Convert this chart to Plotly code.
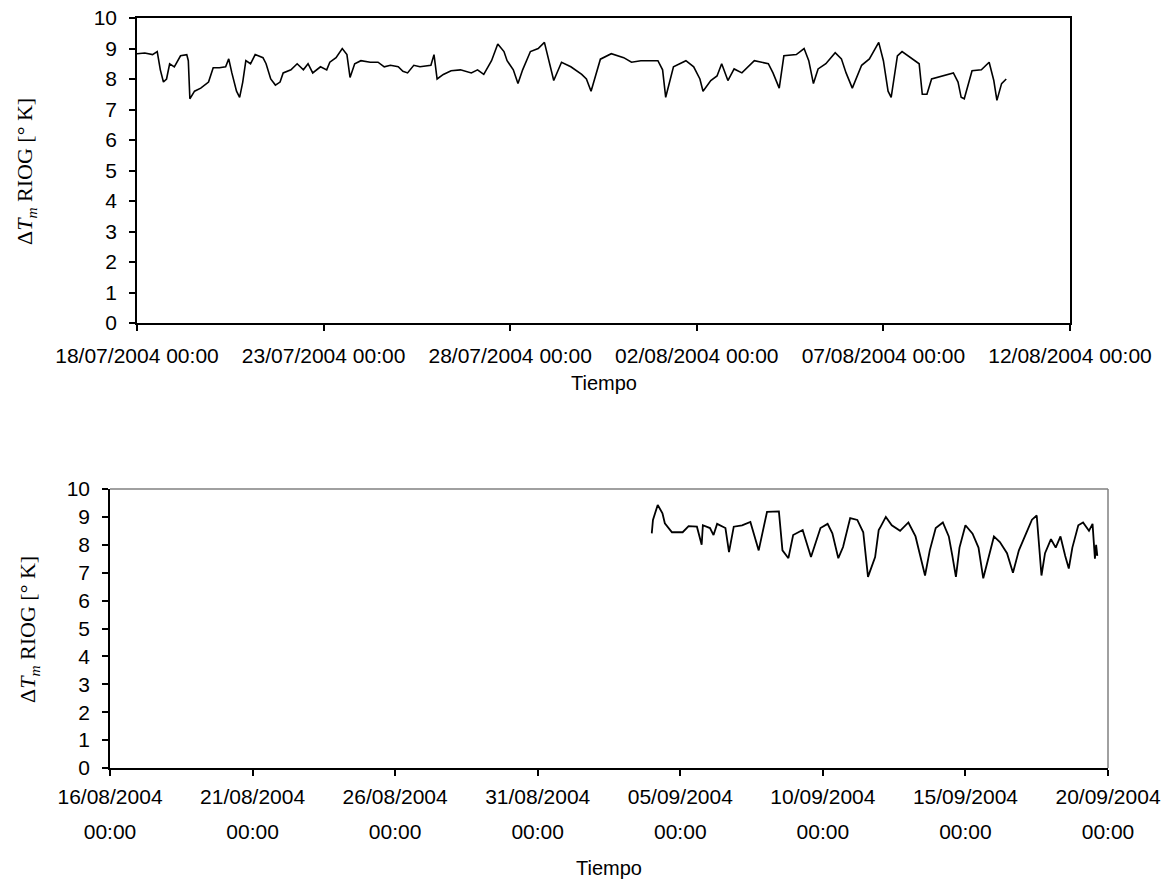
import pandas as pd
import plotly.graph_objects as go

# ---------------- data ----------------
top_start = "2004-07-18 00:00"
top_hours = [0, 5, 10, 13, 15, 17, 19, 21, 24, 28, 32, 33, 34, 37, 41, 46, 49, 53, 57, 59,
             61, 64, 66, 68, 70, 73, 76, 81, 83, 86, 89, 92, 94, 99, 103, 107, 110, 113, 118, 122,
             124, 128, 132, 135, 137, 140, 144, 150, 155, 159, 163, 168, 171, 174, 178, 182, 189, 191, 193, 197,
             202, 208, 215, 219, 223, 228, 232, 236, 238, 242, 245, 248, 253, 258, 262, 265, 268, 273, 279, 286,
             289, 292, 295, 298, 305, 313, 318, 324, 335, 338, 340, 343, 345, 353, 358, 362, 364, 369, 373, 376,
             380, 384, 389, 397, 406, 409, 413, 416, 424, 429, 432, 435, 438, 443, 449, 453, 456, 460, 466, 471,
             477, 480, 483, 485, 489, 492, 500, 503, 505, 508, 511, 518, 525, 528, 530, 532, 537, 543, 548, 551,
             553, 556, 559]
top_values = [8.83, 8.85, 8.8, 8.9, 8.3, 7.9, 8.0, 8.5, 8.4, 8.76, 8.8, 8.6, 7.35, 7.6, 7.7, 7.9, 8.37, 8.37, 8.4, 8.66,
              8.2, 7.6, 7.4, 7.9, 8.6, 8.5, 8.8, 8.7, 8.5, 8.0, 7.8, 7.9, 8.2, 8.3, 8.5, 8.3, 8.5, 8.2, 8.4, 8.3,
              8.55, 8.7, 9.0, 8.8, 8.05, 8.5, 8.6, 8.55, 8.55, 8.4, 8.45, 8.4, 8.25, 8.2, 8.45, 8.4, 8.45, 8.8, 8.0, 8.15,
              8.27, 8.3, 8.2, 8.3, 8.15, 8.6, 9.15, 8.9, 8.6, 8.3, 7.85, 8.3, 8.9, 9.0, 9.2, 8.6, 7.95, 8.55, 8.4, 8.15,
              8.0, 7.6, 8.1, 8.65, 8.83, 8.7, 8.55, 8.6, 8.6, 8.3, 7.4, 8.0, 8.4, 8.6, 8.4, 8.0, 7.6, 7.95, 8.1, 8.5,
              7.95, 8.33, 8.2, 8.6, 8.5, 8.2, 7.7, 8.76, 8.8, 9.0, 8.6, 7.85, 8.33, 8.5, 8.86, 8.66, 8.2, 7.7, 8.45, 8.66,
              9.2, 8.6, 7.6, 7.4, 8.76, 8.9, 8.6, 8.5, 7.5, 7.5, 8.0, 8.1, 8.2, 7.9, 7.4, 7.35, 8.27, 8.3, 8.55, 7.95,
              7.3, 7.85, 8.0]

bot_start = "2004-08-16 00:00"
bot_hours = [456, 457, 461, 465, 467, 473, 482, 487, 494, 498, 499, 505, 508, 511, 518, 521, 525, 532, 539, 546,
             553, 563, 566, 571, 575, 583, 590, 598, 604, 608, 613, 617, 623, 629, 634, 638, 644, 647, 648, 653,
             658, 665, 672, 678, 682, 686, 690, 695, 701, 706, 709, 712, 715, 720, 726, 731, 735, 739, 744, 749,
             755, 760, 765, 771, 776, 780, 782, 784, 787, 792, 796, 800, 804, 807, 810, 815, 819, 824, 827, 829,
             830, 831]
bot_values = [8.41, 8.89, 9.43, 9.13, 8.77, 8.45, 8.45, 8.67, 8.65, 8.0, 8.7, 8.6, 8.35, 8.75, 8.6, 7.74, 8.65, 8.7, 8.82, 7.8,
              9.18, 9.2, 7.8, 7.52, 8.35, 8.53, 7.56, 8.6, 8.75, 8.41, 7.52, 7.92, 8.96, 8.89, 8.45, 6.85, 7.56, 8.53, 8.6, 9.0,
              8.7, 8.5, 8.8, 8.3, 7.6, 6.9, 7.8, 8.6, 8.8, 8.3, 7.6, 6.85, 7.9, 8.7, 8.4, 7.9, 6.8, 7.5, 8.3, 8.1,
              7.7, 7.0, 7.8, 8.4, 8.9, 9.05, 7.8, 6.9, 7.7, 8.2, 7.9, 8.3, 7.6, 7.15, 7.9, 8.7, 8.8, 8.5, 8.75, 7.5,
              8.0, 7.6]

top_tick_dates = ["2004-07-18", "2004-07-23", "2004-07-28", "2004-08-02", "2004-08-07", "2004-08-12"]
top_tick_text = ["18/07/2004 00:00", "23/07/2004 00:00", "28/07/2004 00:00",
                 "02/08/2004 00:00", "07/08/2004 00:00", "12/08/2004 00:00"]
bot_tick_dates = ["2004-08-16", "2004-08-21", "2004-08-26", "2004-08-31",
                  "2004-09-05", "2004-09-10", "2004-09-15", "2004-09-20"]
bot_tick_date_text = ["16/08/2004", "21/08/2004", "26/08/2004", "31/08/2004",
                      "05/09/2004", "10/09/2004", "15/09/2004", "20/09/2004"]
bot_tick_time_text = ["00:00"] * len(bot_tick_dates)
y_ticks = list(range(0, 11))

y_title = "Δ<i>T<sub>m</sub></i> RIOG [° K]"
x_title = "Tiempo"

# ---------------- figure ----------------
W, H = 1166, 881
top_t = pd.Timestamp(top_start) + pd.to_timedelta(top_hours, unit="h")
bot_t = pd.Timestamp(bot_start) + pd.to_timedelta(bot_hours, unit="h")

fig = go.Figure()
fig.add_trace(go.Scatter(x=top_t, y=top_values, mode="lines",
                         line=dict(color="black", width=1.6), xaxis="x", yaxis="y", showlegend=False))
fig.add_trace(go.Scatter(x=bot_t, y=bot_values, mode="lines",
                         line=dict(color="black", width=1.8), xaxis="x2", yaxis="y2", showlegend=False))
# invisible helper trace so the second-line (time) label axis is drawn
fig.add_trace(go.Scatter(x=bot_t[:1], y=bot_values[:1], mode="markers", marker=dict(opacity=0),
                         hoverinfo="skip", xaxis="x3", yaxis="y2", showlegend=False))

tick_font = dict(family="Liberation Sans, Arial, sans-serif", size=21, color="black")
common = dict(ticks="outside", ticklen=6, tickcolor="black", tickwidth=1.5,
              showline=True, linecolor="black", linewidth=1.5,
              showgrid=False, zeroline=False, automargin=False, tickfont=tick_font)

bot_dom = [110 / W, 1108 / W]
fig.update_layout(
    width=W, height=H,
    margin=dict(l=0, r=0, t=0, b=0, autoexpand=False),
    paper_bgcolor="white", plot_bgcolor="white",
    xaxis=dict(domain=[137 / W, 1070 / W], anchor="y", type="date",
               range=[top_tick_dates[0], top_tick_dates[-1]],
               tickvals=top_tick_dates, ticktext=top_tick_text, mirror=True,
               ticklabelstandoff=7, **common),
    yaxis=dict(domain=[1 - 323 / H, 1 - 18 / H], anchor="x", range=[0, 10],
               tickvals=y_ticks, mirror=True, ticklabelstandoff=8, **common),
    xaxis2=dict(domain=bot_dom, anchor="y2", type="date",
                range=[bot_tick_dates[0], bot_tick_dates[-1]],
                tickvals=bot_tick_dates, ticktext=bot_tick_date_text,
                ticklabelstandoff=3, **common),
    xaxis3=dict(domain=bot_dom, anchor="y2", overlaying="x2", side="bottom", type="date",
                range=[bot_tick_dates[0], bot_tick_dates[-1]],
                tickvals=bot_tick_dates, ticktext=bot_tick_time_text,
                ticks="outside", ticklen=6, tickcolor="rgba(0,0,0,0)", showline=False,
                showgrid=False, zeroline=False, automargin=False, tickfont=tick_font,
                ticklabelstandoff=39),
    yaxis2=dict(domain=[1 - 768 / H, 1 - 489 / H], anchor="x2", range=[0, 10],
                tickvals=y_ticks, ticklabelstandoff=8, **common),
    shapes=[
        dict(type="line", xref="x2 domain", yref="y2 domain", x0=0, x1=1, y0=1, y1=1,
             line=dict(color="#808080", width=1.5)),
        dict(type="line", xref="x2 domain", yref="y2 domain", x0=1, x1=1, y0=0, y1=1,
             line=dict(color="#808080", width=1.5)),
    ],
)

title_font = dict(family="Liberation Serif, Times New Roman, serif", size=22, color="black")
label_font = dict(family="Liberation Sans, Arial, sans-serif", size=20, color="black")

fig.add_annotation(text=y_title, xref="paper", yref="paper", x=26 / W, y=1 - 172 / H,
                   textangle=-90, showarrow=False, font=title_font, xanchor="center", yanchor="middle")
fig.add_annotation(text=y_title, xref="paper", yref="paper", x=29 / W, y=1 - 630 / H,
                   textangle=-90, showarrow=False, font=title_font, xanchor="center", yanchor="middle")
fig.add_annotation(text=x_title, xref="paper", yref="paper", x=604 / W, y=1 - 383 / H,
                   showarrow=False, font=label_font, xanchor="center", yanchor="middle")
fig.add_annotation(text=x_title, xref="paper", yref="paper", x=609 / W, y=1 - 868 / H,
                   showarrow=False, font=label_font, xanchor="center", yanchor="middle")

fig.write_html("out.html")
